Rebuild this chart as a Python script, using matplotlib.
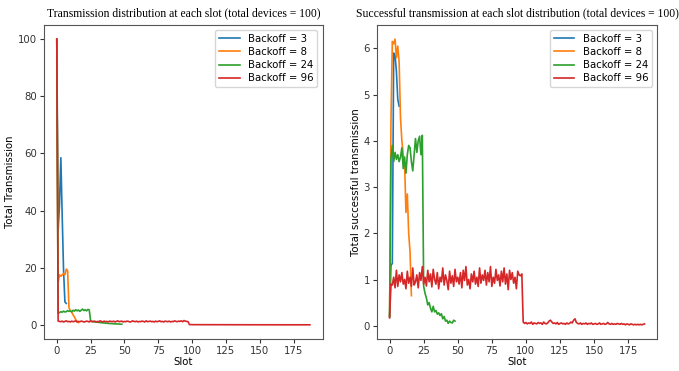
import matplotlib
matplotlib.use("Agg")
import matplotlib.pyplot as plt

labels = ["Backoff = 3", "Backoff = 8", "Backoff = 24", "Backoff = 96"]
colors = ["#1f77b4", "#ff7f0e", "#2ca02c", "#d62728"]

# ---- Total transmissions per slot ----
tx_b3 = [100, 33, 42, 58.5, 38, 19, 8, 7.5]
tx_b8 = [100, 15, 17.5, 17, 17.5, 18, 17.5, 19.5, 19, 6, 5, 4.5, 3.5, 2.8, 1.8, 1.2, 0.8]
tx_b24 = [100, 4.0, 4.3, 4.6, 4.4, 4.8, 4.5, 4.6, 5.0, 4.7, 4.9, 4.5, 5.1, 4.8, 5.3,
          4.9, 5.2, 4.7, 5.1, 5.5, 5.0, 5.3, 4.9, 5.4, 5.2, 1.3, 1.2, 1.1, 1.0, 1.0,
          0.9, 0.85, 0.8, 0.75, 0.7, 0.65, 0.6, 0.55, 0.5, 0.48, 0.45, 0.4, 0.38, 0.35,
          0.33, 0.3, 0.28, 0.25, 0.22]
tx_b96 = [100,
          1.3, 1.2, 1.1, 1.3, 1.0, 1.2, 1.4, 1.1, 1.2, 1.0,
          1.3, 1.1, 1.2, 1.4, 1.0, 1.2, 1.1, 1.3, 1.2, 1.0,
          1.1, 1.3, 1.2, 1.0, 1.4, 1.1, 1.2, 1.3, 1.0, 1.2,
          1.1, 1.4, 1.2, 1.0, 1.3, 1.1, 1.2, 1.0, 1.3, 1.2,
          1.1, 1.3, 1.0, 1.2, 1.4, 1.1, 1.2, 1.3, 1.0, 1.2,
          1.1, 1.3, 1.2, 1.0, 1.1, 1.4, 1.2, 1.1, 1.3, 1.0,
          1.2, 1.1, 1.3, 1.2, 1.0, 1.4, 1.1, 1.2, 1.3, 1.1,
          1.2, 1.0, 1.3, 1.1, 1.2, 1.4, 1.1, 1.2, 1.0, 1.3,
          1.2, 1.1, 1.3, 1.0, 1.2, 1.1, 1.4, 1.2, 1.1, 1.3,
          1.2, 1.4, 1.1, 1.5, 1.3, 1.2, 1.1,
          0.1, 0.08, 0.07, 0.06, 0.06, 0.05, 0.06, 0.05, 0.05, 0.05,
          0.04, 0.05, 0.05, 0.04, 0.04, 0.05, 0.04, 0.04, 0.05, 0.04,
          0.05, 0.04, 0.04, 0.04, 0.03, 0.04, 0.04, 0.03, 0.04, 0.03,
          0.04, 0.03, 0.03, 0.04, 0.03, 0.03, 0.04, 0.03, 0.03, 0.03,
          0.03, 0.03, 0.02, 0.03, 0.03, 0.02, 0.03, 0.02, 0.03, 0.02,
          0.02, 0.03, 0.02, 0.02, 0.02, 0.03, 0.02, 0.02, 0.02, 0.02,
          0.02, 0.02, 0.02, 0.01, 0.02, 0.02, 0.01, 0.02, 0.01, 0.02,
          0.01, 0.01, 0.02, 0.01, 0.01, 0.01, 0.02, 0.01, 0.01, 0.01,
          0.01, 0.01, 0.01, 0.01, 0.01, 0.01, 0.01, 0.01, 0.01, 0.01]

# ---- Successful transmissions per slot ----
ok_b3 = [0.2, 1.3, 1.35, 5.9, 5.85, 5.5, 4.9, 4.75]
ok_b8 = [0.2, 4.4, 6.15, 6.1, 6.2, 5.8, 6.05, 5.7, 4.5, 4.0, 3.7, 3.5, 2.45, 2.85, 2.0, 1.6, 0.65]
ok_b24 = [0.2, 3.6, 3.9, 3.55, 3.75, 3.6, 3.7, 3.55, 3.65, 3.85, 3.4, 3.65, 3.3, 3.7,
          3.9, 3.85, 3.55, 3.35, 3.7, 4.05, 3.75, 4.0, 4.1, 3.7, 4.12, 0.85, 0.7, 0.6,
          0.45, 0.5, 0.38, 0.3, 0.42, 0.3, 0.33, 0.25, 0.28, 0.22, 0.26, 0.15, 0.2,
          0.1, 0.12, 0.05, 0.1, 0.07, 0.06, 0.12, 0.1]
ok_b96 = [0.17,
          0.90, 0.88, 1.05, 0.82, 1.20, 0.85, 1.10, 0.95, 1.15, 0.90,
          1.00, 0.80, 1.18, 0.92, 1.05, 0.85, 1.25, 0.88, 0.95, 1.10,
          0.82, 1.15, 0.98, 1.28, 0.90, 1.05, 0.86, 1.20, 0.95, 1.12,
          0.84, 1.22, 1.00, 0.90, 1.15, 0.80, 1.05, 0.95, 1.25, 0.88,
          1.10, 0.98, 0.78, 1.18, 0.92, 1.08, 0.85, 1.22, 0.95, 1.05,
          0.90, 1.15, 0.82, 1.20, 0.98, 1.28, 0.88, 1.00, 0.80, 1.12,
          0.95, 1.18, 0.90, 1.05, 0.85, 1.25, 0.92, 1.10, 0.98, 1.20,
          0.88, 1.15, 0.95, 1.28, 0.85, 1.05, 0.92, 1.22, 0.98, 1.10,
          0.86, 1.18, 0.95, 1.25, 0.90, 1.12, 0.78, 1.20, 1.00, 1.15,
          0.92, 1.05, 0.80, 1.18, 1.10, 1.08, 1.12,
          0.08, 0.05, 0.07, 0.04, 0.06, 0.05, 0.08, 0.03, 0.06, 0.05,
          0.04, 0.07, 0.05, 0.06, 0.03, 0.08, 0.05, 0.04, 0.06, 0.10,
          0.12, 0.08, 0.05, 0.06, 0.04, 0.07, 0.03, 0.05, 0.06, 0.04,
          0.05, 0.03, 0.06, 0.04, 0.05, 0.08, 0.06, 0.12, 0.15, 0.07,
          0.05, 0.04, 0.06, 0.03, 0.05, 0.04, 0.06, 0.03, 0.05, 0.04,
          0.06, 0.03, 0.04, 0.05, 0.03, 0.04, 0.06, 0.03, 0.04, 0.05,
          0.03, 0.04, 0.07, 0.04, 0.03, 0.05, 0.03, 0.04, 0.03, 0.05,
          0.04, 0.03, 0.05, 0.03, 0.04, 0.02, 0.04, 0.03, 0.02, 0.04,
          0.03, 0.02, 0.03, 0.02, 0.03, 0.02, 0.03, 0.02, 0.03, 0.04]

tx_series = [tx_b3, tx_b8, tx_b24, tx_b96]
ok_series = [ok_b3, ok_b8, ok_b24, ok_b96]

plt.rcParams['font.family'] = ['DejaVu Sans']
fig = plt.figure(figsize=(6.79, 3.71), dpi=100)
ax1 = fig.add_axes([0.065, 0.086, 0.41, 0.847])
ax2 = fig.add_axes([0.555, 0.086, 0.413, 0.847])

title_font = dict(family=['Liberation Serif'], fontsize=8.4)
for ax, series, ylab, title in [
        (ax1, tx_series, "Total Transmission", "Transmission distribution at each slot (total devices = 100)"),
        (ax2, ok_series, "Total successful transmission", "Successful transmission at each slot distribution (total devices = 100)")]:
    for s, lab, c in zip(series, labels, colors):
        ax.plot(range(len(s)), s, color=c, lw=1.2, label=lab)
    ax.set_xlabel("Slot", fontsize=7.3, labelpad=1)
    ax.set_ylabel(ylab, fontsize=7.3, labelpad=2)
    ax.set_title(title, pad=6, **title_font)
    ax.tick_params(labelsize=7.3, length=3, pad=2, colors='#333333')
    ax.set_xticks([0, 25, 50, 75, 100, 125, 150, 175])
    ax.legend(loc='upper right', fontsize=7.3, handlelength=2.0, borderpad=0.4, labelspacing=0.3)
    for sp in ax.spines.values():
        sp.set_color('#555555')

ax2.set_yticks([0, 1, 2, 3, 4, 5, 6])

fig.savefig("out.png", dpi=100)
